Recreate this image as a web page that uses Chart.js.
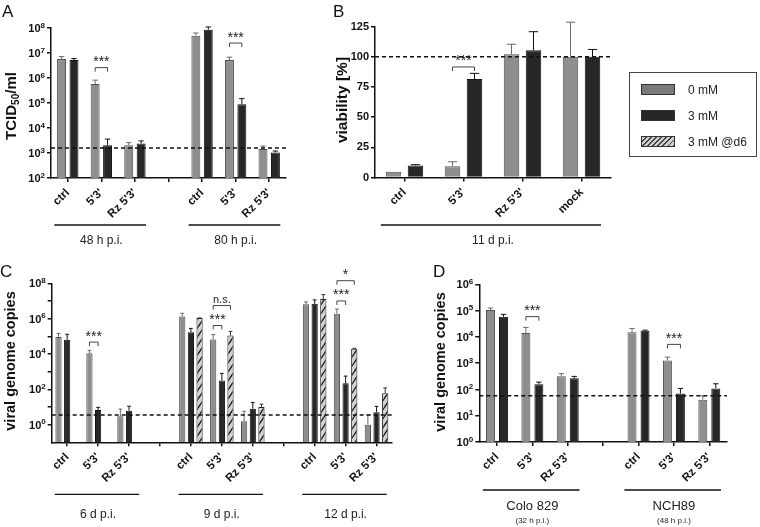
<!DOCTYPE html>
<html>
<head>
<meta charset="utf-8">
<script src="https://cdn.jsdelivr.net/npm/chart.js@4.4.0/dist/chart.umd.min.js"></script>
<style>
body { margin: 0; background: #fff; width: 760px; height: 527px; position: relative; overflow: hidden; font-family: 'Liberation Sans', Arial, sans-serif; }
canvas { position: absolute; }
#cA { left: 0; top: 0; }
#cB { left: 330px; top: 0; }
#cC { left: 0; top: 255px; }
#cD { left: 430px; top: 255px; }
.legend { position: absolute; left: 629px; top: 72px; width: 128px; height: 85px; border: 1px solid #444; box-sizing: border-box; }
.sw { position: absolute; left: 11px; width: 34px; height: 11px; border: 1px solid #333; box-sizing: border-box; }
.lt { position: absolute; left: 58px; font-size: 12px; line-height: 12px; color: #222; }
</style>
</head>
<body>
<canvas id="cA" width="330" height="255"></canvas>
<canvas id="cB" width="430" height="255"></canvas>
<canvas id="cC" width="430" height="272"></canvas>
<canvas id="cD" width="330" height="272"></canvas>
<div class="legend">
  <div class="sw" style="top:11px;background:#7a7a7a"></div><div class="lt" style="top:11px">0 mM</div>
  <div class="sw" style="top:37px;background:#272727"></div><div class="lt" style="top:37px">3 mM</div>
  <div class="sw" style="top:63px;background:repeating-linear-gradient(135deg,#cfcfcf 0 2.5px,#444 2.5px 3.6px)"></div><div class="lt" style="top:63px">3 mM @d6</div>
</div>
<script>
const FONT = "'Liberation Sans', Arial, sans-serif";

// A: virus titre, 48 h / 80 h p.i.
const catsA = ["ctrl", "5'3'", "Rz 5'3'", "", "ctrl", "5'3'", "Rz 5'3'"];
const a0mM = [5.7e6, 5.8e5, 2.05e3, null, 4.9e7, 5.2e6, 1.46e3];
const a0mMErr = [7.2e6, 8.2e5, 2.6e3, null, 6.3e7, 6.8e6, 1.9e3];
const a3mM = [5.3e6, 2.05e3, 2.4e3, null, 8.5e7, 8.9e4, 1.05e3];
const a3mMErr = [6e6, 3.6e3, 3.05e3, null, 1.1e8, 1.5e5, 1.2e3];
const aLimit = 1.6e3;
const ticksA = [1e2, 1e3, 1e4, 1e5, 1e6, 1e7, 1e8];

// B: viability, 11 d p.i.
const catsB = ["ctrl", "5'3'", "Rz 5'3'", "mock"];
const b0mM = [4.7, 9.4, 102, 100];
const b0mMErr = [null, 13, 110.3, 128.6];
const b3mM = [10, 81.5, 105.3, 100];
const b3mMErr = [10.6, 86.2, 120.7, 106];
const ticksB = [0, 25, 50, 75, 100, 125];

// C: viral genome copies, 6 / 9 / 12 d p.i.
const catsC = ["ctrl", "5'3'", "Rz 5'3'", "", "ctrl", "5'3'", "Rz 5'3'", "", "ctrl", "5'3'", "Rz 5'3'"];
const c0mM = [9e4, 1.1e4, 3, null, 1.3e6, 6.5e4, 1.55, null, 6.6e6, 1.9e6, 1.0];
const c0mMErr = [1.45e5, 1.6e4, 7.6, null, 2e6, 1.25e5, 5.7, null, 8.9e6, 3.5e6, 3.5];
const c3mM = [6.3e4, 6.7, 6.1, null, 1.7e5, 310, 7.9, null, 6.9e6, 220, 5];
const c3mMErr = [1.3e5, 9.5, 11, null, 2.8e5, 800, 18, null, 1.15e7, 560, 10.8];
const c3mMd6 = [null, null, null, null, 1.07e6, 1.1e5, 10, null, 1.3e7, 1.95e4, 60];
const c3mMd6Err = [null, null, null, null, 1.1e6, 1.9e5, 14.5, null, 2.3e7, 2.1e4, 120];
const cLimit = 3.5;
const ticksC = [1e0, 1e1, 1e2, 1e3, 1e4, 1e5, 1e6, 1e7, 1e8];
const labelledC = [1e0, 1e2, 1e4, 1e6, 1e8];

// D: viral genome copies in two cell lines
const catsD = ["ctrl", "5'3'", "Rz 5'3'", "", "ctrl", "5'3'", "Rz 5'3'"];
const d0mM = [1.05e5, 1.4e4, 320, null, 1.5e4, 1.27e3, 41];
const d0mMErr = [1.25e5, 2.3e4, 400, null, 2.1e4, 1.7e3, 57];
const d3mM = [5.8e4, 160, 265, null, 1.7e4, 71, 110];
const d3mMErr = [7.2e4, 190, 315, null, 1.8e4, 110, 165];
const dLimit = 58;
const ticksD = [1e0, 1e1, 1e2, 1e3, 1e4, 1e5, 1e6];

function hatch() {
    const c = document.createElement("canvas");
    c.width = 6; c.height = 9;
    const g = c.getContext("2d");
    g.fillStyle = "#d2d2d2";
    g.fillRect(0, 0, 6, 9);
    g.strokeStyle = "#1c1c1c";
    g.lineWidth = 1.4;
    g.beginPath();
    g.moveTo(0, 9); g.lineTo(6, 0);
    g.moveTo(-6, 9); g.lineTo(0, 0);
    g.moveTo(6, 9); g.lineTo(12, 0);
    g.stroke();
    return g.createPattern(c, "repeat");
}

const GRAY = "#8e8e8e", GRAY_EDGE = "#505050";
const BLACK = "#272727", BLACK_EDGE = "#111";

// annotations per canvas: error tops, limit line, brackets, group labels, axis title
const extras = {
    cA: {
        errors: [a0mMErr, a3mMErr], errColors: ["#6a6a6a", "#111"],
        limit: aLimit, powLabels: ticksA,
        brackets: [
            { cat: 1, a: 0, b: 1, y: 2.6e6, text: "***" },
            { cat: 5, a: 0, b: 1, y: 2.5e7, text: "***" }
        ],
        groups: [{ from: 0, to: 2, text: "48 h p.i." }, { from: 4, to: 6, text: "80 h p.i." }],
        lineY: 225, textY: 244, groupFont: 12,
        title: { text: "TCID", sub: "50", rest: "/ml", x: 15.5, y: 106, size: 15 },
        letter: { text: "A", x: 2, y: 17 }
    },
    cB: {
        errors: [b0mMErr, b3mMErr], errColors: ["#6a6a6a", "#111"],
        limit: 100, powLabels: null,
        brackets: [{ cat: 1, a: 0, b: 1, y: 91.5, text: "***" }],
        groups: [{ from: 0, to: 3, text: "11 d p.i." }],
        lineY: 225, textY: 244, groupFont: 12,
        title: { text: "viability [%]", x: 16.5, y: 100, size: 15.5 },
        letter: { text: "B", x: 3, y: 17 }
    },
    cC: {
        errors: [c0mMErr, c3mMErr, c3mMd6Err], errColors: ["#6a6a6a", "#111", "#333"],
        limit: cLimit, powLabels: labelledC,
        brackets: [
            { cat: 1, a: 0, b: 1, y: 4.7e4, text: "***" },
            { cat: 5, a: 0, b: 1, y: 4.1e5, text: "***" },
            { cat: 5, a: 0, b: 2, y: 5.5e6, text: "n.s." },
            { cat: 9, a: 0, b: 1, y: 1e7, text: "***" },
            { cat: 9, a: 0, b: 2, y: 1.4e8, text: "*" }
        ],
        groups: [{ from: 0, to: 2, text: "6 d p.i." }, { from: 4, to: 6, text: "9 d p.i." }, { from: 8, to: 10, text: "12 d p.i." }],
        lineY: 239.3, textY: 262.5, groupFont: 12,
        title: { text: "viral genome copies", x: 15, y: 106, size: 14.5 },
        letter: { text: "C", x: 0, y: 22 }
    },
    cD: {
        errors: [d0mMErr, d3mMErr], errColors: ["#6a6a6a", "#111"],
        limit: dLimit, powLabels: ticksD,
        brackets: [
            { cat: 1, a: 0, b: 1, y: 5.9e4, text: "***" },
            { cat: 5, a: 0, b: 1, y: 5.2e3, text: "***" }
        ],
        groups: [{ from: 0, to: 2, text: "Colo 829", sub: "(32 h p.i.)" }, { from: 4, to: 6, text: "NCH89", sub: "(48 h p.i.)" }],
        lineY: 235, textY: 254.5, groupFont: 13, subY: 268,
        title: { text: "viral genome copies", x: 15, y: 107, size: 14.5 },
        letter: { text: "D", x: 3, y: 22 }
    }
};

const decor = {
    id: "decor",
    afterDatasetsDraw(chart) {
        const cfg = extras[chart.canvas.id];
        const ctx = chart.ctx, ys = chart.scales.y;
        ctx.save();
        ctx.lineWidth = 1;
        cfg.errors.forEach((errs, d) => {
            const meta = chart.getDatasetMeta(d);
            const vals = chart.data.datasets[d].data;
            ctx.strokeStyle = cfg.errColors[d];
            errs.forEach((e, j) => {
                if (e == null || vals[j] == null || e <= vals[j]) return;
                const bar = meta.data[j];
                const top = ys.getPixelForValue(e);
                const half = bar.width * 0.3;
                ctx.beginPath();
                ctx.moveTo(bar.x, bar.y);
                ctx.lineTo(bar.x, top);
                ctx.moveTo(bar.x - half, top);
                ctx.lineTo(bar.x + half, top);
                ctx.stroke();
            });
        });
        ctx.restore();
    },
    afterDraw(chart) {
        const cfg = extras[chart.canvas.id];
        const ctx = chart.ctx, xs = chart.scales.x, ys = chart.scales.y, area = chart.chartArea;
        ctx.save();

        // power-of-ten tick labels with raised exponent
        if (cfg.powLabels) {
            ctx.fillStyle = "#111";
            ctx.textAlign = "left";
            ctx.textBaseline = "alphabetic";
            cfg.powLabels.forEach(v => {
                const e = String(Math.round(Math.log10(v)));
                const y = ys.getPixelForValue(v);
                ctx.font = `bold 8px ${FONT}`;
                const ew = ctx.measureText(e).width;
                ctx.font = `bold 11px ${FONT}`;
                const bw = ctx.measureText("10").width;
                const right = area.left - 6;
                ctx.fillText("10", right - ew - bw, y + 4);
                ctx.font = `bold 8px ${FONT}`;
                ctx.fillText(e, right - ew, y - 0.5);
            });
        }

        // detection limit
        const ly = ys.getPixelForValue(cfg.limit);
        ctx.setLineDash([4, 3]);
        ctx.lineWidth = 1.5;
        ctx.strokeStyle = "#111";
        ctx.beginPath();
        ctx.moveTo(area.left, ly);
        ctx.lineTo(area.right, ly);
        ctx.stroke();
        ctx.setLineDash([]);

        // significance brackets
        ctx.lineWidth = 1;
        ctx.strokeStyle = "#444";
        ctx.fillStyle = "#222";
        ctx.textAlign = "center";
        ctx.textBaseline = "alphabetic";
        cfg.brackets.forEach(b => {
            const x1 = chart.getDatasetMeta(b.a).data[b.cat].x;
            const x2 = chart.getDatasetMeta(b.b).data[b.cat].x;
            const y = ys.getPixelForValue(b.y);
            ctx.beginPath();
            ctx.moveTo(x1, y + 4); ctx.lineTo(x1, y); ctx.lineTo(x2, y); ctx.lineTo(x2, y + 4);
            ctx.stroke();
            if (b.text === "n.s.") {
                ctx.font = `11px ${FONT}`;
                ctx.fillText(b.text, (x1 + x2) / 2, y - 3);
            } else {
                ctx.font = `14px ${FONT}`;
                ctx.fillText(b.text, (x1 + x2) / 2, y - 1.5);
            }
        });

        // group lines and labels under the axis
        const w = xs.getPixelForValue(1) - xs.getPixelForValue(0);
        ctx.strokeStyle = "#111";
        ctx.lineWidth = 1.3;
        cfg.groups.forEach(g => {
            const x1 = xs.getPixelForValue(g.from) - 0.4 * w;
            const x2 = xs.getPixelForValue(g.to) + 0.33 * w;
            const xm = xs.getPixelForValue((g.from + g.to) / 2);
            ctx.beginPath();
            ctx.moveTo(x1, cfg.lineY);
            ctx.lineTo(x2, cfg.lineY);
            ctx.stroke();
            ctx.font = `${cfg.groupFont}px ${FONT}`;
            ctx.fillStyle = "#222";
            ctx.fillText(g.text, xm, cfg.textY);
            if (g.sub) {
                ctx.font = `8px ${FONT}`;
                ctx.fillText(g.sub, xm, cfg.subY);
            }
        });

        // y axis title
        const t = cfg.title;
        ctx.save();
        ctx.translate(t.x, t.y);
        ctx.rotate(-Math.PI / 2);
        ctx.fillStyle = "#111";
        ctx.textBaseline = "alphabetic";
        const big = `bold ${t.size}px ${FONT}`, small = `bold ${Math.round(t.size * 0.65)}px ${FONT}`;
        ctx.font = big;
        let total = ctx.measureText(t.text).width;
        if (t.sub) {
            ctx.font = small; total += ctx.measureText(t.sub).width;
            ctx.font = big; total += ctx.measureText(t.rest).width;
        }
        let x = -total / 2;
        ctx.textAlign = "left";
        ctx.font = big;
        ctx.fillText(t.text, x, 0);
        x += ctx.measureText(t.text).width;
        if (t.sub) {
            ctx.font = small;
            ctx.fillText(t.sub, x, 3);
            x += ctx.measureText(t.sub).width;
            ctx.font = big;
            ctx.fillText(t.rest, x, 0);
        }
        ctx.restore();

        // panel letter
        ctx.font = `17px ${FONT}`;
        ctx.fillStyle = "#111";
        ctx.textAlign = "left";
        ctx.fillText(cfg.letter.text, cfg.letter.x, cfg.letter.y);
        ctx.restore();
    }
};
Chart.register(decor);

function series(label, data, fill, edge) {
    return { label, data, backgroundColor: fill, borderColor: edge, borderWidth: 1 };
}

function axisX(labels, height) {
    return {
        type: "category",
        labels,
        afterFit: s => { s.height = height; },
        grid: { offset: false, drawOnChartArea: false, drawTicks: true, tickLength: 4, color: "#111", lineWidth: 1.5 },
        border: { color: "#111", width: 1.5 },
        ticks: { autoSkip: false, maxRotation: 45, minRotation: 45, padding: 4, color: "#111", font: { family: FONT, size: 11.5, weight: "bold" } }
    };
}

// log axis: tick marks from the library, labels drawn by the decor plugin
function axisLogY(min, max, ticks, width) {
    return {
        type: "logarithmic",
        min, max,
        afterFit: s => { s.width = width; },
        afterBuildTicks: s => { s.ticks = ticks.map(v => ({ value: v })); },
        grid: { drawOnChartArea: false, tickLength: 4, color: "#111", lineWidth: 1.5 },
        border: { color: "#111", width: 1.5 },
        ticks: { callback: () => "" }
    };
}

function makeChart(id, labels, datasets, y, pad, xHeight, catPct, barPct) {
    return new Chart(document.getElementById(id), {
        type: "bar",
        data: { labels, datasets },
        options: {
            responsive: false,
            animation: false,
            devicePixelRatio: 1,
            layout: { padding: pad },
            datasets: { bar: { categoryPercentage: catPct, barPercentage: barPct } },
            plugins: { legend: { display: false }, tooltip: { enabled: false } },
            scales: { x: axisX(labels, xHeight), y }
        }
    });
}

const HATCH = hatch();

makeChart("cA", catsA,
    [series("0 mM", a0mM, GRAY, GRAY_EDGE), series("3 mM", a3mM, BLACK, BLACK_EDGE)],
    axisLogY(1e2, 1e8, ticksA, 51),
    { left: 0, right: 44, top: 28, bottom: 37 }, 40, 0.74, 0.72);

makeChart("cB", catsB,
    [series("0 mM", b0mM, GRAY, GRAY_EDGE), series("3 mM", b3mM, BLACK, BLACK_EDGE)],
    {
        type: "linear", min: 0, max: 125,
        afterFit: s => { s.width = 45; },
        afterBuildTicks: s => { s.ticks = ticksB.map(v => ({ value: v })); },
        grid: { drawOnChartArea: false, tickLength: 4, color: "#111", lineWidth: 1.5 },
        border: { color: "#111", width: 1.5 },
        ticks: { padding: 2, color: "#111", font: { family: FONT, size: 11, weight: "bold" } }
    },
    { left: 0, right: 149, top: 26.5, bottom: 37.5 }, 40, 0.745, 0.705);

makeChart("cC", catsC,
    [series("0 mM", c0mM, GRAY, GRAY_EDGE), series("3 mM", c3mM, BLACK, BLACK_EDGE), series("3 mM @d6", c3mMd6, HATCH, "#222")],
    axisLogY(1e-1, 1e8, ticksC, 51.7),
    { left: 0, right: 38, top: 28.3, bottom: 44.7 }, 40, 0.84, 0.72);

makeChart("cD", catsD,
    [series("0 mM", d0mM, GRAY, GRAY_EDGE), series("3 mM", d3mM, BLACK, BLACK_EDGE)],
    axisLogY(1e0, 1e6, ticksD, 49.3),
    { left: 0, right: 33, top: 29.3, bottom: 44.9 }, 40, 0.734, 0.69);
</script>
</body>
</html>
